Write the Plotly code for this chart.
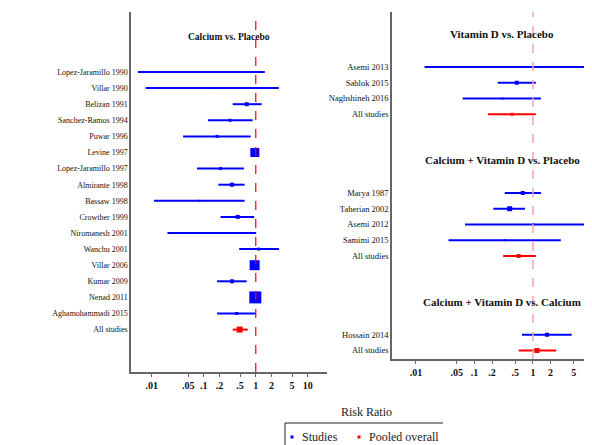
import plotly.graph_objects as go

# page body has an 8px margin: figure drawn in reference pixel space shifted by OFF
OFF = 8
W, H = 592 - OFF, 445 - OFF
FONT = "'Liberation Serif', 'Times New Roman', Times, serif"

# ---------------- data ----------------
left_title = "Calcium vs. Placebo"
left_names = ["Lopez-Jaramillo 1990", "Villar 1990", "Belizan 1991", "Sanchez-Ramos 1994",
              "Puwar 1996", "Levine 1997", "Lopez-Jaramillo 1997", "Almirante 1998",
              "Bassaw 1998", "Crowther 1999", "Niromanesh 2001", "Wanchu 2001",
              "Villar 2006", "Kumar 2009", "Nenad 2011", "Aghamohammadi 2015", "All studies"]
left_rr = [0.09, 0.15, 0.67, 0.32, 0.18, 0.96, 0.21, 0.35, 0.083, 0.45, 0.14, 1.14,
           0.95, 0.35, 0.98, 0.43, 0.49]
left_lo = [0.0054, 0.0076, 0.36, 0.12, 0.04, 0.82, 0.074, 0.19, 0.011, 0.21, 0.02, 0.48,
           0.80, 0.18, 0.78, 0.18, 0.36]
left_hi = [1.49, 2.77, 1.3, 0.87, 0.8, 1.12, 0.59, 0.61, 0.61, 0.93, 1.02, 2.8,
           1.12, 0.67, 1.22, 1.0, 0.70]
left_w = [2, 2, 4, 3, 3, 9, 3, 4, 2, 4, 2, 3, 10, 4, 12, 3, 6]
left_pooled = [False] * 16 + [True]

right_titles = ["Vitamin D vs. Placebo", "Calcium + Vitamin D vs. Placebo",
                "Calcium + Vitamin D vs. Calcium"]
right_groups = [
    ["Asemi 2013", "Sablok 2015", "Naghshineh 2016", "All studies"],
    ["Marya 1987", "Taherian 2002", "Asemi 2012", "Samimi 2015", "All studies"],
    ["Hossain 2014", "All studies"],
]
right_rr = [0.35, 0.53, 0.30, 0.44, 0.67, 0.40, 1.03, 0.33, 0.57, 1.74, 1.17]
right_lo = [0.014, 0.25, 0.063, 0.17, 0.33, 0.21, 0.069, 0.036, 0.31, 0.65, 0.57]
right_hi = [8.0, 1.12, 1.37, 1.12, 1.37, 0.73, 15.0, 3.0, 1.12, 4.6, 2.5]
right_w = [2, 4, 2, 3, 4, 5, 2, 2, 4, 4, 5]

tick_vals = [0.01, 0.05, 0.1, 0.2, 0.5, 1, 2, 5, 10]
tick_text = [".01", ".05", ".1", ".2", ".5", "1", "2", "5", "10"]

BLUE = "#0000ff"
RED = "#ff0000"
AXC = "#666666"

# ---------------- rows ----------------
left_rows = list(range(len(left_names)))

right_names, right_rows, right_title_rows, right_pooled = [], [], [], []
r = 0
for gi, g in enumerate(right_groups):
    if gi > 0:
        r += 4
    right_title_rows.append(r - 2)
    for j, n in enumerate(g):
        right_names.append(n)
        right_rows.append(r)
        right_pooled.append(n == "All studies")
        r += 1

fig = go.Figure()


def add_panel(rr, lo, hi, rows, w, pooled, xa, ya):
    for is_pool in (False, True):
        idx = [i for i in range(len(rr)) if pooled[i] == is_pool]
        col = RED if is_pool else BLUE
        fig.add_trace(go.Scatter(
            x=[rr[i] for i in idx], y=[rows[i] for i in idx],
            mode="markers", xaxis=xa, yaxis=ya, showlegend=False,
            marker=dict(symbol="square", color=col, size=[w[i] for i in idx],
                        opacity=1, line=dict(width=0)),
            error_x=dict(type="data", symmetric=False,
                         array=[hi[i] - rr[i] for i in idx],
                         arrayminus=[rr[i] - lo[i] for i in idx],
                         color=col, thickness=2, width=0),
            cliponaxis=True,
        ))


add_panel(left_rr, left_lo, left_hi, left_rows, left_w, left_pooled, "x", "y")
add_panel(right_rr, right_lo, right_hi, right_rows, right_w, right_pooled, "x2", "y2")


# pixel geometry (reference space)
def px(v):
    return (v - OFF) / W


def py(v):
    return (H - (v - OFF)) / H


L_x0, L_x1, L_top, L_bot = 131, 327, 12, 372
R_x0, R_x1, R_top, R_bot = 392, 592, 12, 359
L_row0, L_step = 72, 16.1
R_row0, R_step = 67, 15.75


def yr(top, bot, row0, step):
    return [(bot - row0) / step, (top - row0) / step]


axis_common = dict(type="log", tickvals=tick_vals, ticktext=tick_text, ticks="outside",
                   ticklen=3, tickcolor=AXC, showline=True, linecolor=AXC, linewidth=1.5,
                   showgrid=False, zeroline=False,
                   tickfont=dict(family=FONT, size=10, color="#111", weight="bold"))
yaxis_common = dict(showline=True, linecolor=AXC, linewidth=1.5, showgrid=False,
                    zeroline=False, ticks="")

fig.update_layout(
    width=W, height=H, margin=dict(l=0, r=0, t=0, b=0),
    paper_bgcolor="white", plot_bgcolor="white", showlegend=False,
    xaxis=dict(domain=[px(L_x0), px(L_x1)], range=[-2.40, 1.37], anchor="y", **axis_common),
    yaxis=dict(domain=[py(L_bot), py(L_top)],
               range=yr(L_top, L_bot, L_row0, L_step), anchor="x",
               tickvals=left_rows, ticktext=left_names,
               tickfont=dict(family=FONT, size=8, color="#111"), **yaxis_common),
    xaxis2=dict(domain=[px(R_x0), min(1, px(R_x1))], range=[-2.41, 1.01], anchor="y2",
                **axis_common),
    yaxis2=dict(domain=[py(R_bot), py(R_top)],
                range=yr(R_top, R_bot, R_row0, R_step), anchor="x2",
                tickvals=right_rows, ticktext=right_names,
                tickfont=dict(family=FONT, size=8.5, color="#111"), **yaxis_common),
)

# reference lines at RR = 1
fig.add_shape(type="line", xref="x", yref="y domain", x0=1, x1=1, y0=0, y1=1,
              line=dict(color=RED, width=1.2, dash="dash"))
fig.add_shape(type="line", xref="x2", yref="y2 domain", x0=1, x1=1, y0=0, y1=1,
              line=dict(color="#f5a3b8", width=1.5, dash="dash"))

# panel titles
fig.add_annotation(text=left_title, xref="paper", yref="y", x=px(229), y=-2.17,
                   xanchor="center", yanchor="middle", showarrow=False,
                   font=dict(family=FONT, size=9.5, color="#111", weight="bold"))
for t, rw in zip(right_titles, right_title_rows):
    fig.add_annotation(text=t, xref="paper", yref="y2", x=px(502), y=rw - 0.1,
                       xanchor="center", yanchor="middle", showarrow=False,
                       font=dict(family=FONT, size=11, color="#111", weight="bold"))

# x title
fig.add_annotation(text="Risk Ratio", xref="paper", yref="paper", x=px(366), y=py(412),
                   xanchor="center", yanchor="middle", showarrow=False,
                   font=dict(family=FONT, size=12, color="#222"))

# legend box (top and left border)
fig.add_shape(type="line", xref="paper", yref="paper", x0=px(285), x1=px(443),
              y0=py(423), y1=py(423), line=dict(color="#222", width=1))
fig.add_shape(type="line", xref="paper", yref="paper", x0=px(285), x1=px(285),
              y0=py(423), y1=py(460), line=dict(color="#222", width=1))
for cx, col, lab in [(292, BLUE, "Studies"), (359, RED, "Pooled overall")]:
    fig.add_shape(type="rect", xref="paper", yref="paper",
                  x0=px(cx - 1.5), x1=px(cx + 1.5),
                  y0=py(438.5), y1=py(435.5),
                  fillcolor=col, line=dict(width=0))
    fig.add_annotation(text=lab, xref="paper", yref="paper", x=px(cx + 8),
                       y=py(437), xanchor="left", yanchor="middle", showarrow=False,
                       font=dict(family=FONT, size=12, color="#222"))

fig.write_html("out.html")
